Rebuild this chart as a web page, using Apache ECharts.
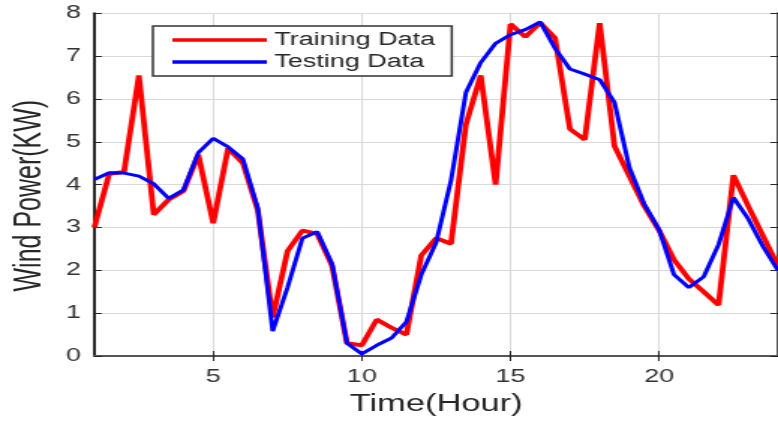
<!DOCTYPE html>
<html>
<head>
<meta charset="utf-8">
<script src="https://cdn.jsdelivr.net/npm/echarts@6/dist/echarts.min.js"></script>
<style>
  html, body { margin: 0; padding: 0; background: #fff; overflow: hidden; }
  /* The figure is laid out narrow and widened horizontally, giving the wide glyphs and strokes */
  #chart { width: 519px; height: 421px; transform: scaleX(1.499); transform-origin: 0 0; }
</style>
</head>
<body>
<div id="chart"></div>
<script>
// Time axis, half-hour samples
const hours = [1, 1.5, 2, 2.5, 3, 3.5, 4, 4.5, 5, 5.5, 6, 6.5, 7, 7.5, 8, 8.5, 9, 9.5, 10, 10.5,
  11, 11.5, 12, 12.5, 13, 13.5, 14, 14.5, 15, 15.5, 16, 16.5, 17, 17.5, 18, 18.5, 19, 19.5,
  20, 20.5, 21, 21.5, 22, 22.5, 23, 23.5, 24];

// Wind power (KW)
const trainingData = [3.0, 4.25, 4.3, 6.55, 3.3, 3.65, 3.85, 4.7, 3.1, 4.85, 4.5, 3.4, 0.9, 2.45,
  2.93, 2.85, 2.1, 0.3, 0.25, 0.85, 0.66, 0.5, 2.35, 2.75, 2.62, 5.4, 6.55, 4.0, 7.75, 7.45,
  7.78, 7.42, 5.3, 5.05, 7.77, 4.9, 4.2, 3.5, 2.93, 2.25, 1.8, 1.5, 1.19, 4.22, 3.5, 2.8, 2.1];

const testingData = [4.12, 4.28, 4.27, 4.2, 4.02, 3.68, 3.88, 4.75, 5.08, 4.88, 4.6, 3.45, 0.58,
  1.6, 2.75, 2.9, 2.15, 0.3, 0.05, 0.25, 0.42, 0.8, 1.9, 2.65, 4.1, 6.15, 6.85, 7.3, 7.5, 7.62,
  7.8, 7.18, 6.7, 6.58, 6.45, 5.92, 4.4, 3.55, 2.95, 1.9, 1.6, 1.85, 2.6, 3.7, 3.2, 2.55, 2.0];

// Axis ticks
const xTicks = [5, 10, 15, 20];
const yTicks = [0, 1, 2, 3, 4, 5, 6, 7, 8];

const seriesNames = ['Training Data', 'Testing Data'];

const pairs = (xs, ys) => xs.map((x, i) => [x, ys[i]]);

const FONT = '"Liberation Sans", Arial, sans-serif';
const TEXT = '#262626';

const chart = echarts.init(document.getElementById('chart'));

chart.setOption({
  backgroundColor: '#fff',
  animation: false,
  grid: { left: 59.4, right: -4.3, top: 13.3, bottom: 63, containLabel: false },
  legend: {
    data: seriesNames,
    orient: 'vertical',
    left: 102,
    top: 26,
    icon: 'rect',
    itemWidth: 63,
    itemHeight: 3.5,
    itemGap: 4,
    padding: [5, 11, 5, 13],
    backgroundColor: '#fff',
    borderColor: '#333',
    borderWidth: 1.5,
    textStyle: { fontFamily: FONT, fontSize: 18, color: TEXT }
  },
  xAxis: [{
    type: 'value',
    min: hours[0],
    max: hours[hours.length - 1],
    name: 'Time(Hour)',
    nameLocation: 'middle',
    nameGap: 37,
    nameTextStyle: { fontFamily: FONT, fontSize: 23, color: TEXT },
    axisLine: { lineStyle: { color: '#262626', width: 2 } },
    axisTick: { inside: true, length: 5, customValues: xTicks, lineStyle: { color: '#262626' } },
    axisLabel: { customValues: xTicks, margin: 12, fontFamily: FONT, fontSize: 18, color: '#333' },
    splitLine: { show: true, lineStyle: { color: '#d9d9d9', width: 1 } }
  }, {
    type: 'value',
    position: 'top',
    min: hours[0],
    max: hours[hours.length - 1],
    axisLine: { lineStyle: { color: '#555', width: 2 } },
    axisTick: { inside: true, length: 5, customValues: xTicks, lineStyle: { color: '#262626' } },
    axisLabel: { show: false },
    splitLine: { show: false }
  }],
  yAxis: [{
    type: 'value',
    min: yTicks[0],
    max: yTicks[yTicks.length - 1],
    interval: 1,
    name: 'Wind Power(KW)',
    nameLocation: 'middle',
    nameGap: 27,
    nameTextStyle: { fontFamily: FONT, fontSize: 25, color: TEXT, padding: [0, 22, 0, 0] },
    axisLine: { show: true, lineStyle: { color: '#262626', width: 2 } },
    axisTick: { show: true, inside: true, length: 5, lineStyle: { color: '#262626' } },
    axisLabel: { margin: 9, fontFamily: FONT, fontSize: 18, color: '#333' },
    splitLine: { show: true, lineStyle: { color: '#d9d9d9', width: 1 } }
  }, {
    type: 'value',
    position: 'right',
    min: yTicks[0],
    max: yTicks[yTicks.length - 1],
    interval: 1,
    axisLine: { show: true, lineStyle: { color: '#555', width: 2 } },
    axisTick: { show: true, inside: true, length: 5, lineStyle: { color: '#262626' } },
    axisLabel: { show: false },
    splitLine: { show: false }
  }],
  series: [{
    name: seriesNames[0],
    type: 'line',
    data: pairs(hours, trainingData),
    showSymbol: false,
    color: '#ff0000',
    lineStyle: { color: '#ff0000', width: 3.8 },
    z: 2
  }, {
    name: seriesNames[1],
    type: 'line',
    data: pairs(hours, testingData),
    showSymbol: false,
    color: '#0000ff',
    lineStyle: { color: '#0000ff', width: 3 },
    z: 3
  }]
});
</script>
</body>
</html>
